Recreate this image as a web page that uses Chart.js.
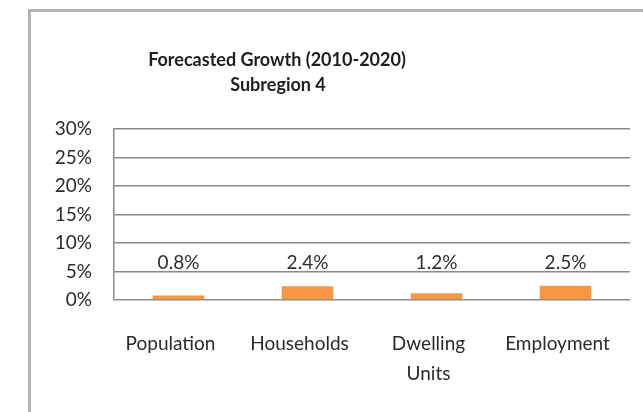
<!DOCTYPE html>
<html>
<head>
<meta charset="utf-8">
<script src="https://cdn.jsdelivr.net/npm/chart.js@4.4.1/dist/chart.umd.min.js"></script>
<style>
  html, body { margin: 0; padding: 0; background: #fff; overflow: hidden; }
  #wrap { position: relative; width: 643px; height: 412px; }
  #frame {
    position: absolute; left: 28px; top: 9px; width: 700px; height: 500px;
    border-left: 3px solid #b2b2b2; border-top: 3px solid #b2b2b2;
  }
  #chart { position: absolute; left: 0; top: 0; }
</style>
</head>
<body>
<div id="wrap">
  <div id="frame"></div>
  <canvas id="chart" width="643" height="412"></canvas>
</div>
<script>
// growth figures per category, in percent
const categories = ['Population', 'Households', ['Dwelling', 'Units'], 'Employment'];
const growth = [0.8, 2.4, 1.2, 2.5];
const yTicks = [0, 5, 10, 15, 20, 25, 30];
const titleLines = ['Forecasted Growth (2010-2020)', 'Subregion 4'];

const FONT = 'Lato, "Open Sans", sans-serif';

// title drawn over the plot, centred on the chart box rather than the canvas
const titlePlugin = {
  id: 'boxTitle',
  afterDraw(chart) {
    const c = chart.ctx;
    c.save();
    c.fillStyle = '#1e1e1e';
    c.font = 'bold 18px ' + FONT;
    c.textAlign = 'center';
    c.textBaseline = 'middle';
    c.fillText(titleLines[0], 277, 60);
    c.fillText(titleLines[1], 278, 85);
    c.restore();
  }
};

// value labels sit on a common line above the bars
const valueLabels = {
  id: 'valueLabels',
  afterDatasetsDraw(chart) {
    const c = chart.ctx;
    const y0 = chart.scales.y.getPixelForValue(0);
    const meta = chart.getDatasetMeta(0);
    c.save();
    c.fillStyle = '#2e2e2e';
    c.font = '19px ' + FONT;
    c.textAlign = 'center';
    c.textBaseline = 'middle';
    meta.data.forEach((bar, i) => {
      c.fillText(growth[i].toFixed(1) + '%', bar.x, y0 - 37);
    });
    c.restore();
  }
};

new Chart(document.getElementById('chart'), {
  type: 'bar',
  data: {
    labels: categories,
    datasets: [{
      data: growth,
      backgroundColor: '#f79646',
      barPercentage: 0.4,
      categoryPercentage: 1
    }]
  },
  options: {
    responsive: false,
    animation: false,
    layout: { padding: { left: 40, top: 129, right: 13, bottom: 20 } },
    plugins: {
      legend: { display: false },
      title: { display: false },
      tooltip: { enabled: false }
    },
    scales: {
      x: {
        grid: { display: false },
        border: { display: false },
        ticks: {
          color: '#2a2a2a',
          font: { family: FONT, size: 19, lineHeight: 1.62 },
          padding: 20,
          labelOffset: -8,
          maxRotation: 0,
          autoSkip: false
        },
        afterFit(scale) { scale.height = 92; }
      },
      y: {
        min: 0,
        max: 30,
        afterBuildTicks(scale) { scale.ticks = yTicks.map(v => ({ value: v })); },
        grid: { color: '#8a8a8a', lineWidth: 1.5, drawTicks: false },
        border: { display: true, color: '#8a8a8a', width: 1.5 },
        ticks: {
          color: '#2a2a2a',
          font: { family: FONT, size: 19 },
          padding: 22,
          callback: v => v + '%'
        },
        afterFit(scale) { scale.width = 74; }
      }
    }
  },
  plugins: [titlePlugin, valueLabels]
});
</script>
</body>
</html>
